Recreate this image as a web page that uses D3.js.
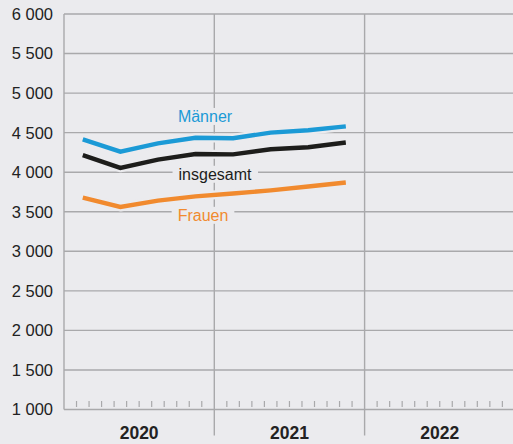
<!DOCTYPE html>
<html>
<head>
<meta charset="utf-8">
<script src="https://cdn.jsdelivr.net/npm/d3@7"></script>
<style>
  body { margin: 0; background: #ebebee; }
  svg { display: block; font-family: "Liberation Sans", Arial, sans-serif; }
</style>
</head>
<body>
<div id="chart"></div>
<script>
var years = ["2020", "2021", "2022"];
// quarters 2020 Q1 .. 2021 Q4
var quarters = ["2020-Q1", "2020-Q2", "2020-Q3", "2020-Q4", "2021-Q1", "2021-Q2", "2021-Q3", "2021-Q4"];
var maenner   = [4415, 4260, 4365, 4435, 4430, 4500, 4530, 4580];
var insgesamt = [4215, 4055, 4160, 4230, 4225, 4290, 4315, 4375];
var frauen    = [3680, 3560, 3640, 3695, 3730, 3770, 3820, 3870];
var yTicks = [1000, 1500, 2000, 2500, 3000, 3500, 4000, 4500, 5000, 5500, 6000];

var W = 513, H = 444;
var margin = {top: 14, right: 0, bottom: 34.5, left: 64};
var bg = "#ebebee", grid = "#a9a9ab";

var svg = d3.select("#chart").append("svg")
    .attr("width", W).attr("height", H);

svg.append("rect").attr("width", W).attr("height", H).attr("fill", bg);

var yearW = 150.3;
// x in "quarter index" units: 0 = start of 2020, 12 = end of 2022
var x = d3.scaleLinear().domain([0, 12]).range([margin.left, margin.left + 3 * yearW]);
var y = d3.scaleLinear().domain([1000, 6000]).range([H - margin.bottom, margin.top]);

// horizontal grid
svg.append("g").selectAll("line")
  .data(yTicks)
  .enter().append("line")
    .attr("x1", margin.left).attr("x2", W)
    .attr("y1", function (d) { return y(d); })
    .attr("y2", function (d) { return y(d); })
    .attr("stroke", grid).attr("stroke-width", 1.4);

// left axis
svg.append("line")
    .attr("x1", margin.left).attr("x2", margin.left)
    .attr("y1", y(6000)).attr("y2", y(1000))
    .attr("stroke", grid).attr("stroke-width", 1.4);

// year separators
svg.append("g").selectAll("line")
  .data([1, 2])
  .enter().append("line")
    .attr("x1", function (d) { return x(d * 4); })
    .attr("x2", function (d) { return x(d * 4); })
    .attr("y1", y(6000)).attr("y2", y(1000) + 26)
    .attr("stroke", grid).attr("stroke-width", 1.4);

// month ticks
var months = d3.range(1, 36).filter(function (m) { return m % 12 !== 0; });
svg.append("g").selectAll("line")
  .data(months)
  .enter().append("line")
    .attr("x1", function (m) { return x(m / 3); })
    .attr("x2", function (m) { return x(m / 3); })
    .attr("y1", y(1000) - 8.5).attr("y2", y(1000) - 2.5)
    .attr("stroke", grid).attr("stroke-width", 1.2);

// y labels
svg.append("g").selectAll("text")
  .data(yTicks)
  .enter().append("text")
    .attr("x", 53)
    .attr("y", function (d) { return y(d); })
    .attr("dy", "0.36em")
    .attr("text-anchor", "end")
    .attr("font-size", 16.5)
    .attr("fill", "#222")
    .text(function (d) { return d3.format(",")(d).replace(",", " "); });

// year labels
svg.append("g").selectAll("text")
  .data(years)
  .enter().append("text")
    .attr("x", function (d, i) { return x(i * 4 + 2); })
    .attr("y", 439)
    .attr("text-anchor", "middle")
    .attr("font-size", 17.5)
    .attr("font-weight", "bold")
    .attr("fill", "#222")
    .text(function (d) { return d; });

var line = d3.line()
    .x(function (d, i) { return x(i + 0.5); })
    .y(function (d) { return y(d); });

var series = [
  {name: "Männer", values: maenner, color: "#1b9ad6", lx: 205, ly: 4706},
  {name: "insgesamt", values: insgesamt, color: "#1d1d1b", lx: 215, ly: 3975},
  {name: "Frauen", values: frauen, color: "#f18a2e", lx: 203, ly: 3456}
];

// halo then line
series.forEach(function (s) {
  svg.append("path")
      .attr("d", line(s.values))
      .attr("fill", "none")
      .attr("stroke", bg)
      .attr("stroke-width", 9)
      .attr("stroke-linejoin", "round");
});
series.forEach(function (s) {
  svg.append("path")
      .attr("d", line(s.values))
      .attr("fill", "none")
      .attr("stroke", s.color)
      .attr("stroke-width", 4.4);
});

// labels with background
series.forEach(function (s) {
  var t = svg.append("text")
      .attr("x", s.lx)
      .attr("y", y(s.ly))
      .attr("dy", "0.35em")
      .attr("text-anchor", "middle")
      .attr("font-size", 16)
      .attr("fill", s.color)
      .text(s.name);
  var b = t.node().getBBox();
  svg.insert("rect", function () { return t.node(); })
      .attr("x", b.x - 6).attr("y", b.y)
      .attr("width", b.width + 12).attr("height", b.height)
      .attr("fill", bg);
});
</script>
</body>
</html>
